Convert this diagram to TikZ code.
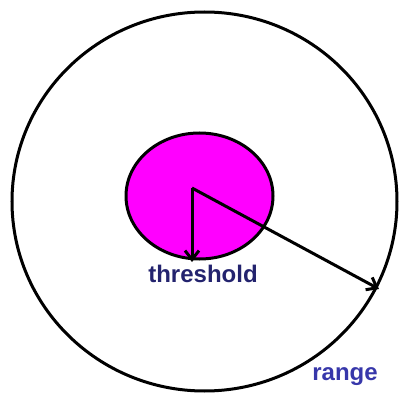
\documentclass[tikz,border=0pt]{standalone}
\usepackage{fontspec}
\setmainfont{Liberation Sans}
\usetikzlibrary{arrows.meta,shapes.geometric}
\definecolor{mag}{RGB}{255,0,255}
\definecolor{thrcol}{RGB}{35,35,110}
\definecolor{rngcol}{RGB}{55,55,170}
\begin{document}
\begin{tikzpicture}[x=1pt,y=-1pt,
  outline/.style={draw=black,line width=3pt},
  ray/.style={draw=black,line width=3pt,-{Straight Barb[length=9pt,width=14pt]}},
  lbl/.style={font=\bfseries\fontsize{24}{26}\selectfont,inner sep=0pt}]
\useasboundingbox (0,0) rectangle (405,396);
\node[outline,ellipse,minimum width=385pt,minimum height=379pt,inner sep=0pt] (range) at (204.5,201.5) {};
\node[outline,fill=mag,ellipse,minimum width=147pt,minimum height=126pt,inner sep=0pt] (thr) at (199.5,196) {};
\coordinate (c) at (192,188);
\coordinate (t) at (192,262);
\coordinate (r) at (379,289);
\draw[ray] (c) -- (t);
\draw[ray] (c) -- (r);
\node[lbl,text=thrcol] (thrlbl) at (203,274) {threshold};
\node[lbl,text=rngcol] (rnglbl) at (345,377) {range};
\end{tikzpicture}
\end{document}
